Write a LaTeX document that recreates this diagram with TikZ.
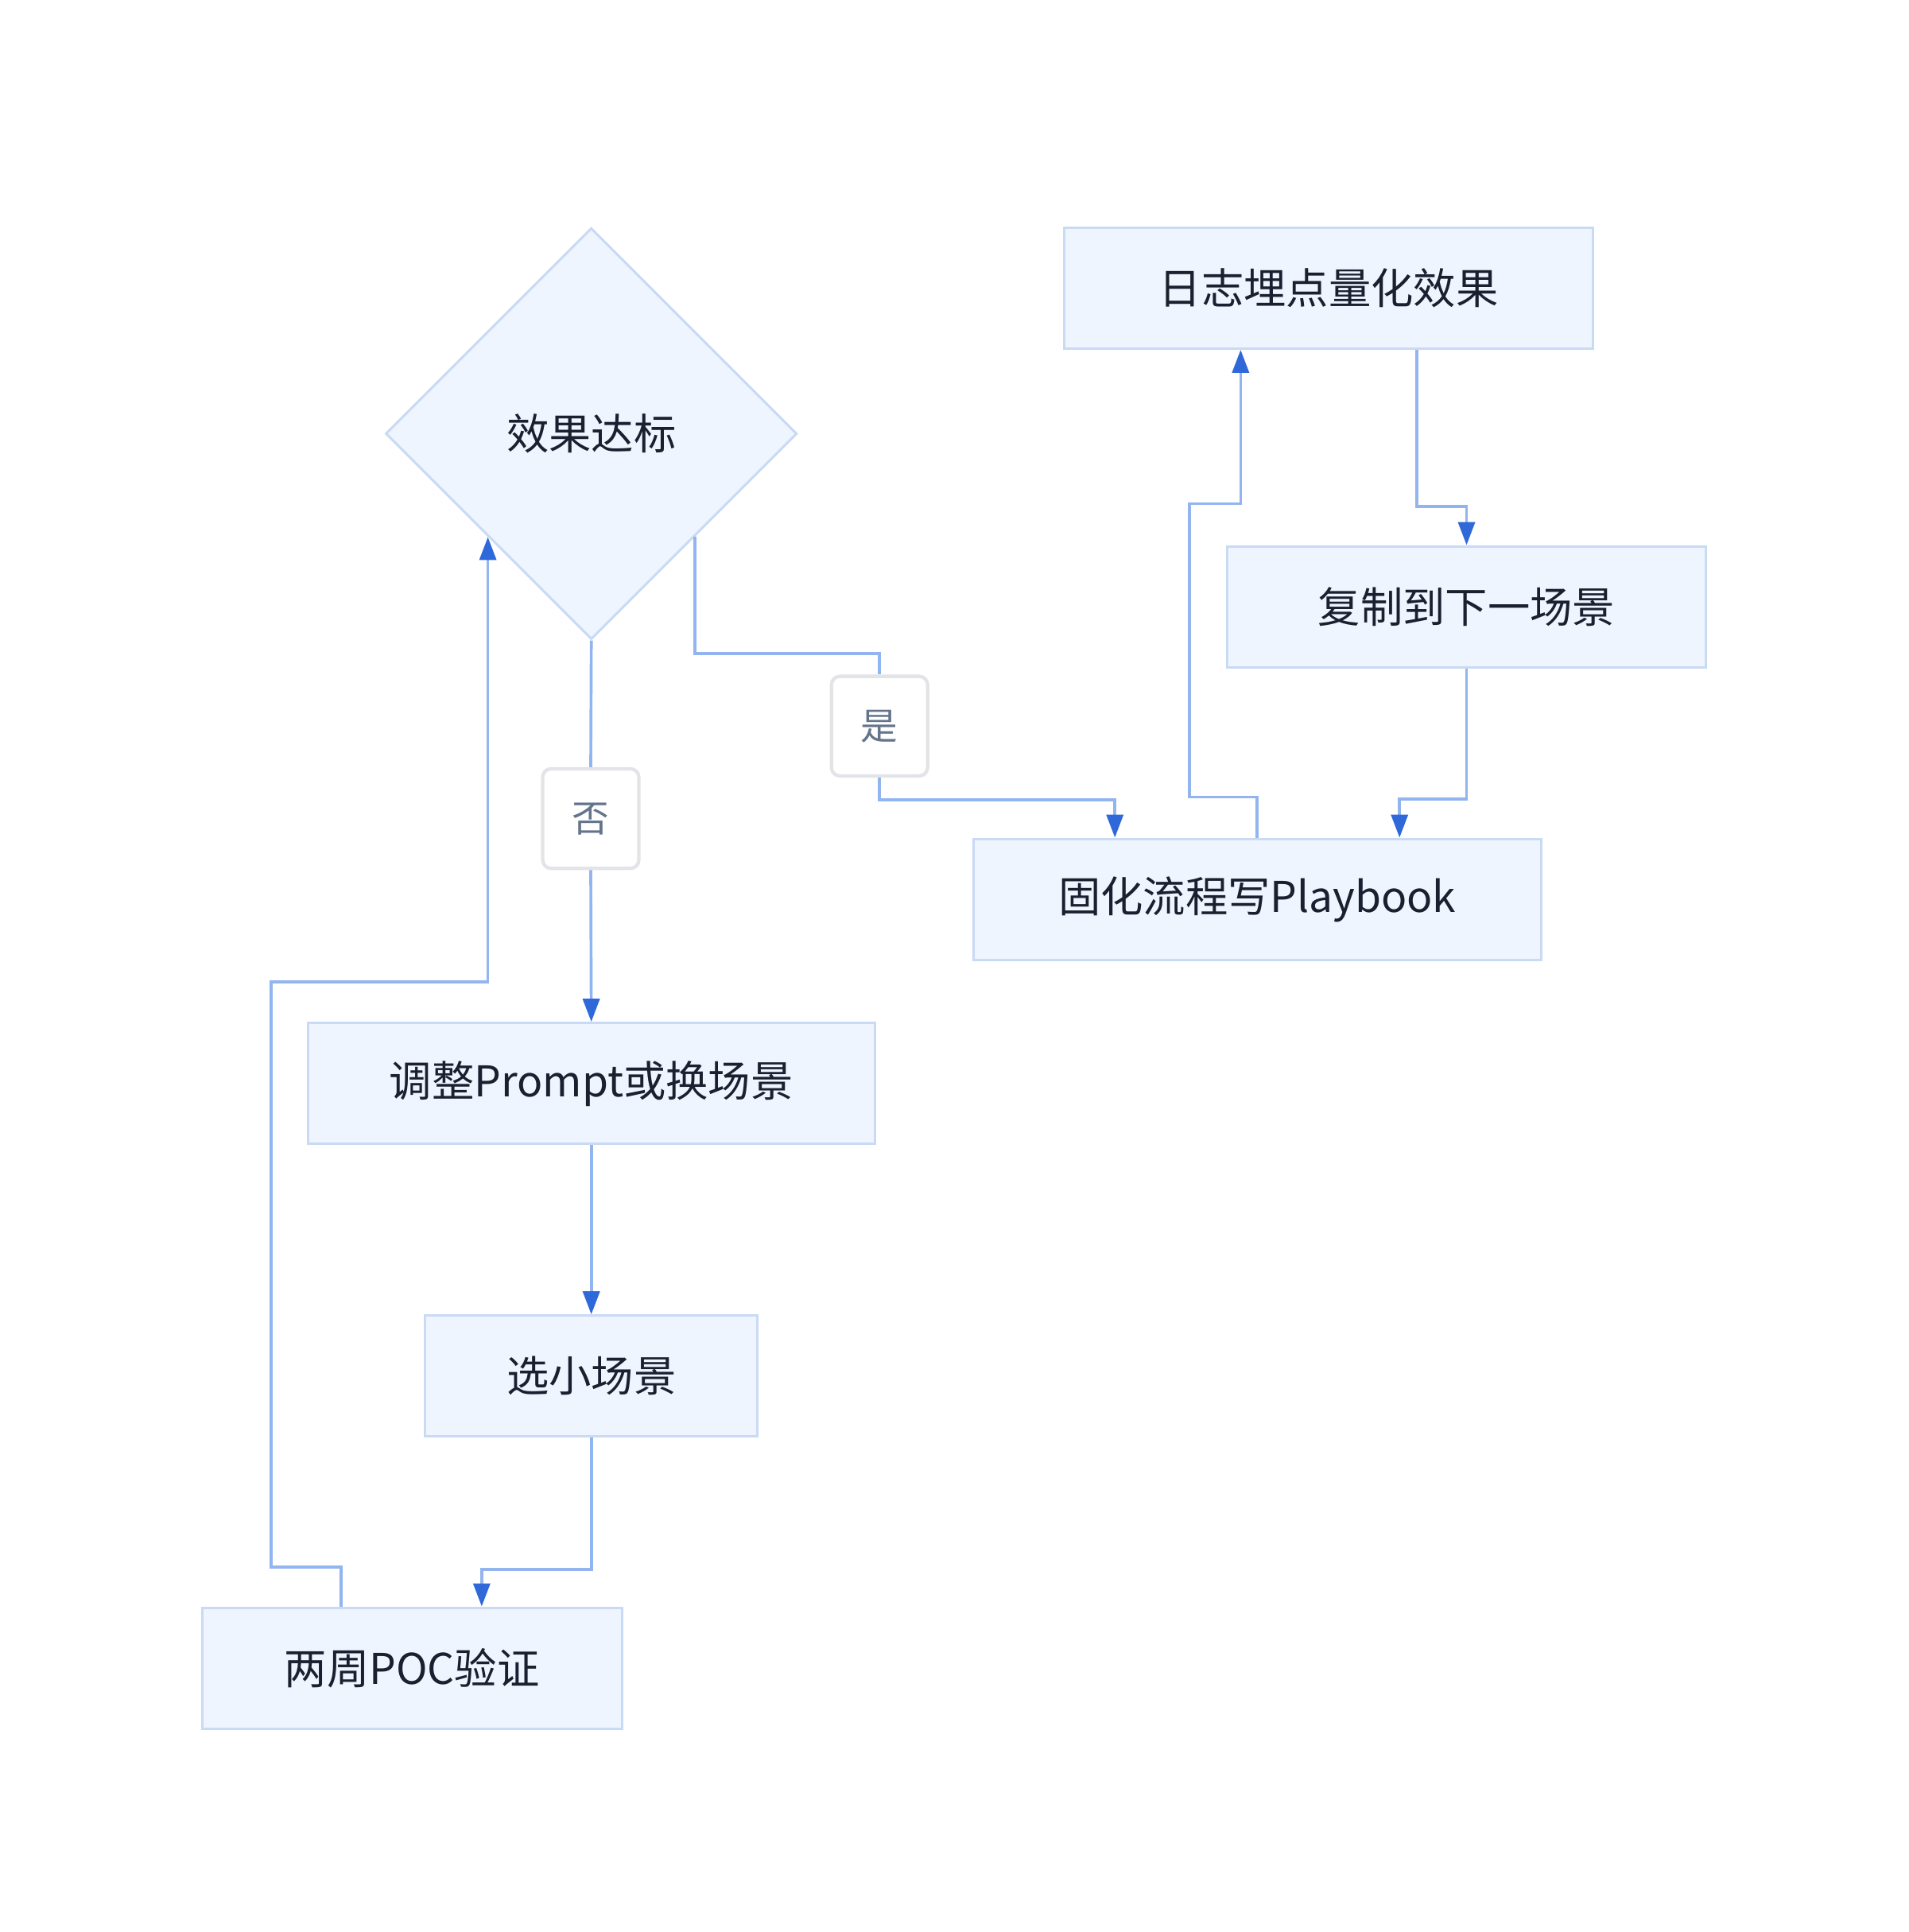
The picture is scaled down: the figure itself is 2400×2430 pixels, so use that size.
\documentclass[tikz,border=0pt]{standalone}
\usepackage{fontspec}
\setmainfont{Noto Sans CJK SC}
\usepackage{tikz}
\usetikzlibrary{shapes.geometric,arrows.meta}

\definecolor{boxfill}{HTML}{EFF5FE}
\definecolor{boxline}{HTML}{C9DAF5}
\definecolor{linkline}{HTML}{92B5EF}
\definecolor{tipblue}{HTML}{2F69D9}
\definecolor{textdark}{HTML}{1B2030}
\definecolor{labeltext}{HTML}{64748B}
\definecolor{labelline}{HTML}{E2E4E8}

\begin{document}
\begin{tikzpicture}[x=0.3pt, y=-0.3pt,
	box/.style={rectangle, draw=boxline, fill=boxfill, line width=0.9pt, inner sep=0pt,
		minimum height=45.6pt, text=textdark, font=\fontsize{16}{19}\selectfont},
	dec/.style={diamond, aspect=1, draw=boxline, fill=boxfill, line width=0.9pt, inner sep=0pt,
		minimum width=155.2pt, minimum height=155.2pt, text=textdark, font=\fontsize{16}{19}\selectfont},
	lbl/.style={rectangle, rounded corners=3.2pt, draw=labelline, fill=white, line width=1.3pt,
		minimum width=36.3pt, minimum height=37.6pt, inner sep=0pt, text=labeltext,
		font=\fontsize{14}{17}\selectfont},
	link/.style={draw=linkline, line width=1.1pt},
	arr/.style={link, -{Triangle[length=8.7pt, width=6.3pt, color=tipblue]}}]
\useasboundingbox (0,0) rectangle (2400,2430);
\node[dec] (dec) at (743.7,545.4) {效果达标};
\node[box, minimum width=199.4pt] (log) at (1671,362.5) {日志埋点量化效果};
\node[box, minimum width=180.8pt] (copy) at (1844.5,763.1) {复制到下一场景};
\node[box, minimum width=214.3pt] (fix) at (1581.2,1131) {固化流程写Playbook};
\node[box, minimum width=213.8pt] (tune) at (743.7,1362.7) {调整Prompt或换场景};
\node[box, minimum width=125.5pt] (pick) at (743.7,1730.7) {选小场景};
\node[box, minimum width=158.5pt] (poc) at (518.2,2098) {两周POC验证};
\node[lbl] (no) at (743,1029.6) {否};
\node[lbl] (yes) at (1106.2,913.3) {是};

\draw[link] (dec.south) -- (no.north);
\draw[arr] (no.south) -- (tune.north);
\draw[link] (dec.south east) -- ++(0,146.5) -| (yes.north);
\draw[arr] (yes.south) -- ++(0,28) -| ([xshift=-53.7pt]fix.north);
\draw[arr] (fix.north) -- ++(0,-51) -| ++(-85,-369) -| ([xshift=-33.2pt]log.south);
\draw[arr] ([xshift=33.2pt]log.south) -- ++(0,196.7) -| (copy.north);
\draw[arr] (copy.south) -- ++(0,164.2) -| ([xshift=53.7pt]fix.north);
\draw[arr] (tune.south) -- (pick.north);
\draw[arr] (pick.south) -- ++(0,165.8) -| ([xshift=26.3pt]poc.north);
\draw[arr] ([xshift=-26.7pt]poc.north) -- ++(0,-49.6) -| ++(-88.3,-736) -| (dec.south west);
\end{tikzpicture}
\end{document}
